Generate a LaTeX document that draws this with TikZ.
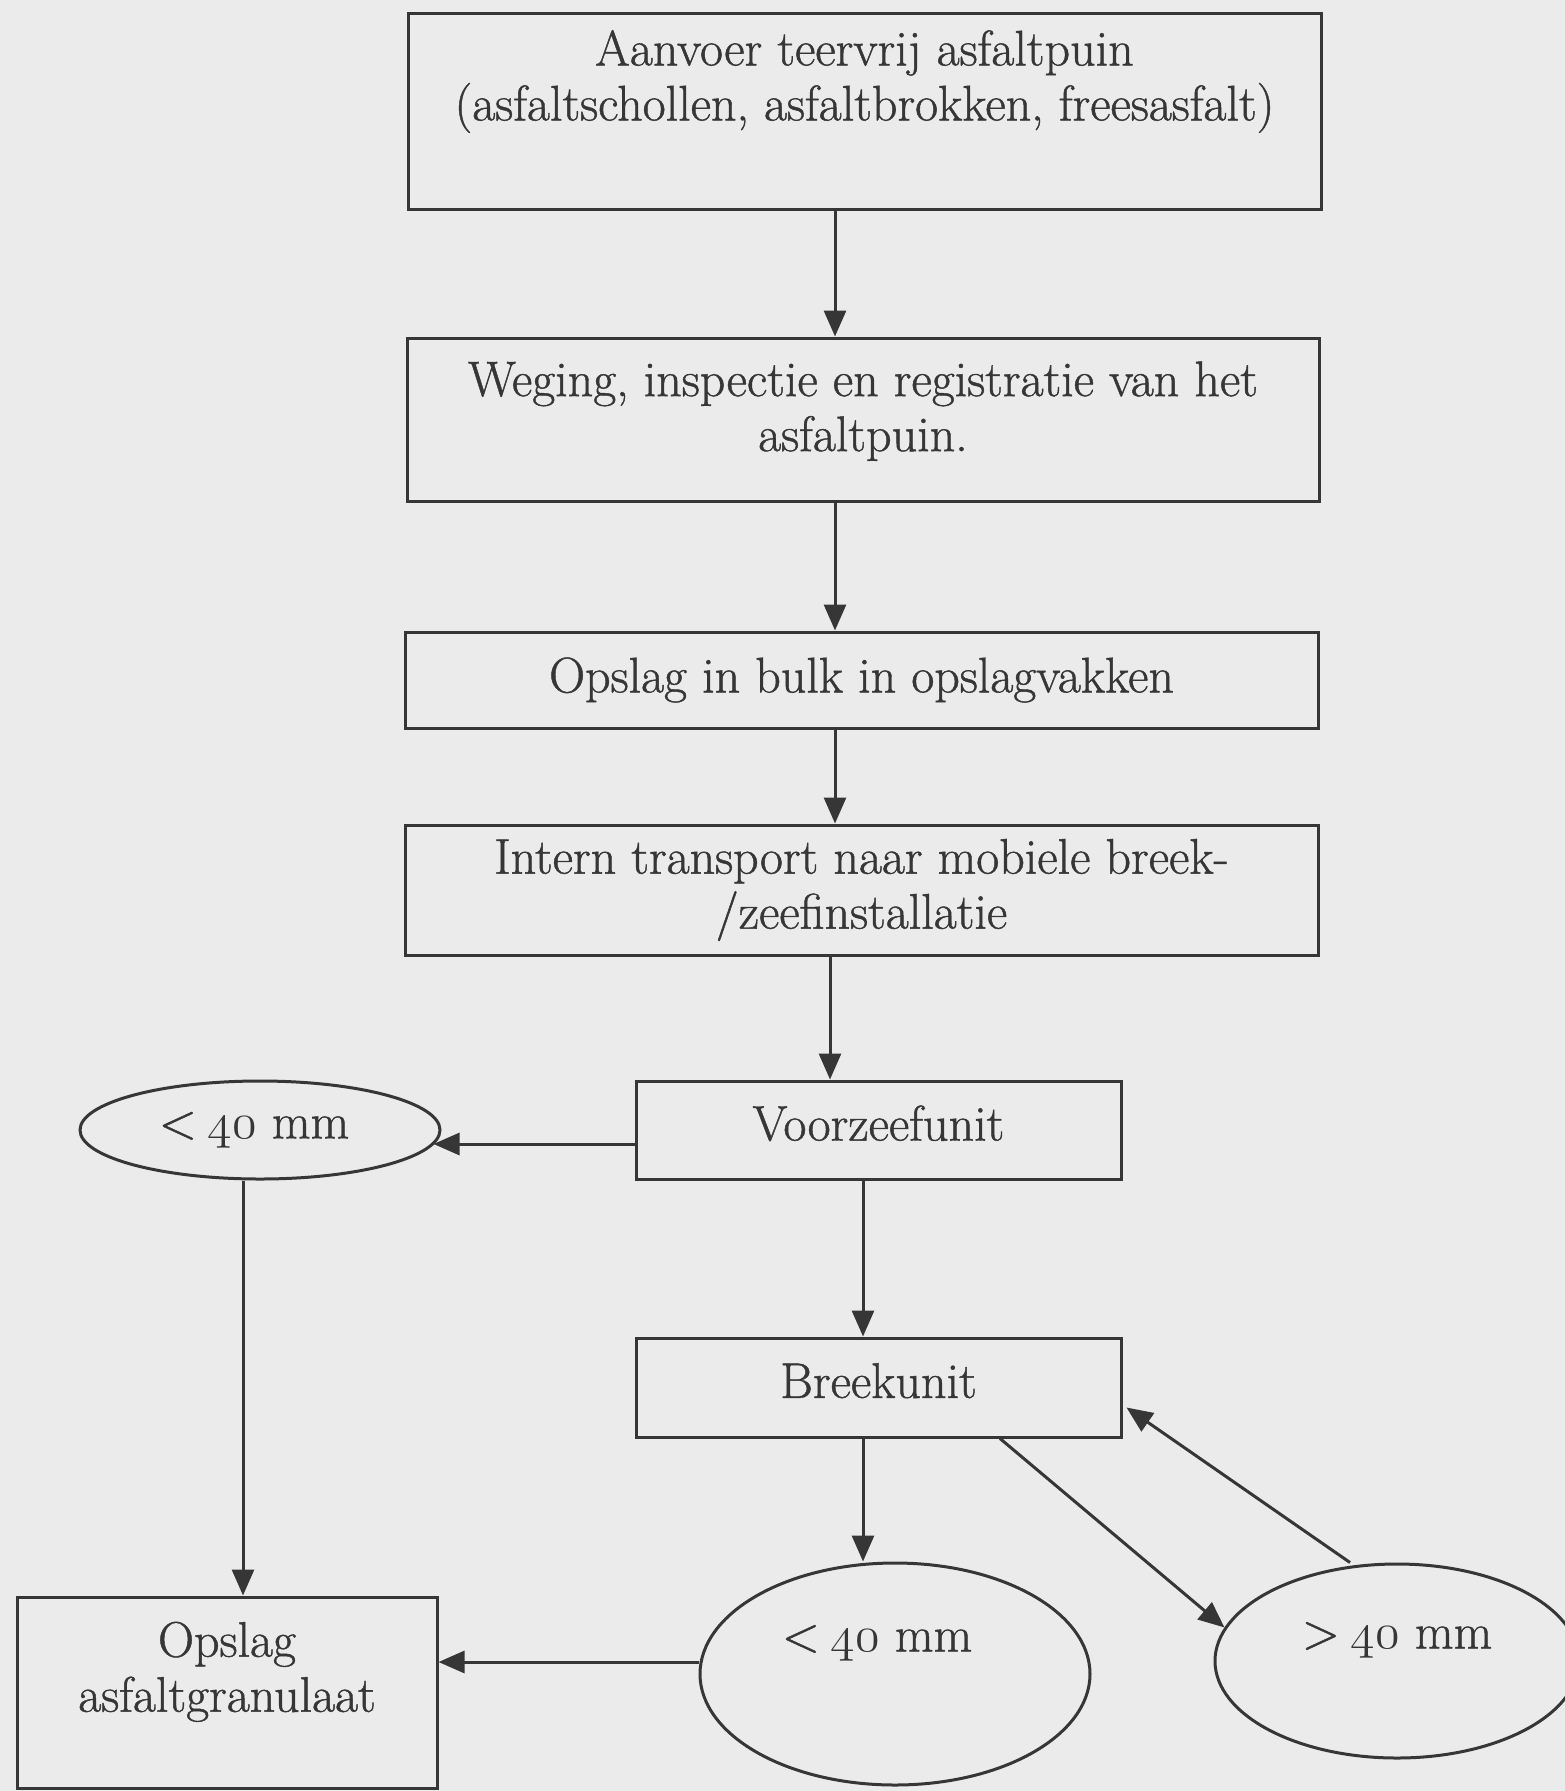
\RequirePackage{fix-cm}
\documentclass[tikz,border=0pt]{standalone}
\usepackage{fontspec}
\setmainfont{Latin Modern Roman}[FakeBold=0.9]
\usetikzlibrary{arrows.meta,shapes.geometric}
\definecolor{bg}{HTML}{EBEBEB}
\definecolor{ink}{HTML}{363636}
\newcommand{\osnum}[1]{{\usefont{OML}{cmm}{m}{it}#1}}
\begin{document}
\begin{tikzpicture}[x=1pt,y=-1pt,
  every node/.style={font=\fontsize{50}{55}\selectfont, text=ink},
  box/.style={draw=ink, line width=3pt, rectangle, inner sep=0pt, align=center},
  ell/.style={draw=ink, line width=3pt, ellipse, inner sep=0pt, align=center},
  arr/.style={draw=ink, line width=3pt, -{Triangle[length=26pt,width=22pt]}}]
\fill[bg] (0,0) rectangle (1565,1791);
\useasboundingbox (0,0) rectangle (1565,1791);

\node[box, minimum width=913pt, minimum height=196pt] (b1) at (864.5,111)
  {Aanvoer teervrij asfaltpuin\\(asfaltschollen, asfaltbrokken, freesasfalt)\\\strut};
\node[box, minimum width=912pt, minimum height=163pt] (b2) at (863,419.5)
  {Weging, inspectie en registratie van het\\asfaltpuin.\\[-45pt]\strut};
\node[box, minimum width=913pt, minimum height=96pt] (b3) at (861.5,680)
  {Opslag in bulk in opslagvakken};
\node[box, minimum width=913pt, minimum height=130pt] (b4) at (861.5,890)
  {Intern transport naar mobiele breek-\\/zeefinstallatie};
\node[box, minimum width=485pt, minimum height=98pt, text depth=14pt] (voor) at (878.5,1130)
  {Voorzeefunit};
\node[box, minimum width=485pt, minimum height=99pt, text depth=14pt] (breek) at (878.5,1387.5)
  {Breekunit};
\node[ell, minimum width=360pt, minimum height=98pt] (ell1) at (260,1130)
  {\textless\hspace{0.22em}\osnum{40} mm\hspace*{12pt}};
\node[box, minimum width=420pt, minimum height=191pt] (opslag) at (227,1692.5)
  {Opslag\\asfaltgranulaat\\[-20pt]\strut};
\node[ell, minimum width=390pt, minimum height=222pt] (ell2) at (895,1674)
  {\textless\hspace{0.22em}\osnum{40} mm\hspace*{36pt}\\\strut};
\node[ell, minimum width=364pt, minimum height=194pt] (ell3) at (1397,1661)
  {\textgreater\hspace{0.22em}\osnum{40} mm\\[-20pt]\strut};

\draw[arr] ([xshift=-29.5pt]b1.south) -- ([xshift=-29.5pt]b1.south |- b2.north);
\draw[arr] ([xshift=-28pt]b2.south) -- ([xshift=-28pt]b2.south |- b3.north);
\draw[arr] ([xshift=-26.5pt]b3.south) -- ([xshift=-26.5pt]b3.south |- b4.north);
\draw[arr] ([xshift=-31.5pt]b4.south) -- ([xshift=-31.5pt]b4.south |- voor.north);
\draw[arr] ([xshift=-15.5pt]voor.south) -- ([xshift=-15.5pt]voor.south |- breek.north);
\draw[arr] ([yshift=-14pt]voor.west) -- ([yshift=-14pt,xshift=-8pt]ell1.east);
\draw[arr] ([xshift=-17pt]ell1.south) -- ([xshift=-17pt]ell1.south |- opslag.north);
\draw[arr] ([xshift=-15.5pt]breek.south) -- ([xshift=-15.5pt]breek.south |- ell2.north);
\draw[arr] ([yshift=12pt]ell2.west) -- ([yshift=12pt]ell2.west -| opslag.east);
\draw[arr] ([xshift=121.5pt]breek.south) -- (ell3.169);
\draw[arr] ([xshift=-47pt]ell3.north) -- ([yshift=-20pt,xshift=4pt]breek.east);
\end{tikzpicture}
\end{document}
